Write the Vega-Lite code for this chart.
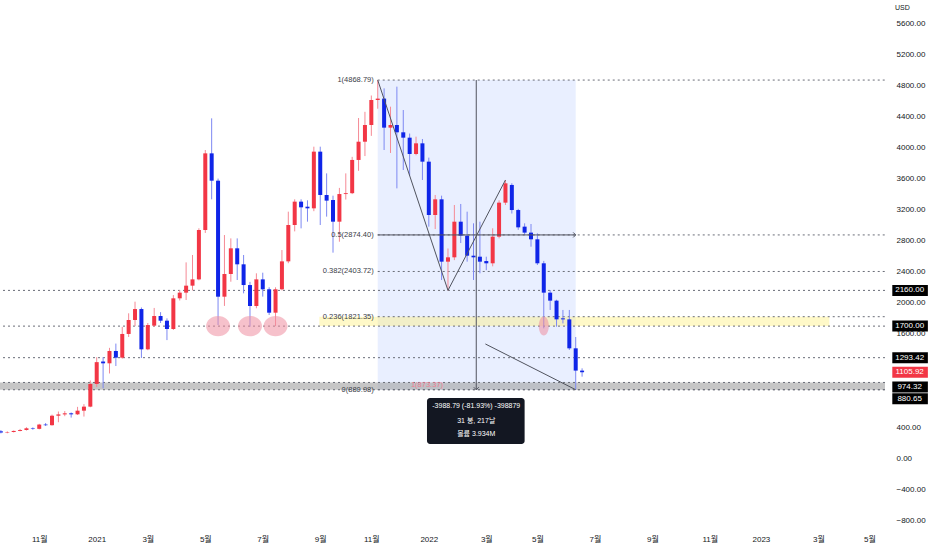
{
  "$schema": "https://vega.github.io/schema/vega-lite/v6.json",
  "width": 885,
  "height": 528,
  "autosize": {"type": "none"},
  "padding": {"left": 0, "top": 0, "right": 47, "bottom": 22},
  "background": "white",
  "datasets": {
    "candles": [
      {"d": "2020-09-21", "o": 345, "h": 362, "l": 318, "c": 330},
      {"d": "2020-09-28", "o": 330, "h": 345, "l": 320, "c": 336},
      {"d": "2020-10-05", "o": 336, "h": 356, "l": 330, "c": 350},
      {"d": "2020-10-12", "o": 350, "h": 376, "l": 345, "c": 362},
      {"d": "2020-10-19", "o": 362, "h": 398, "l": 355, "c": 384},
      {"d": "2020-10-26", "o": 384, "h": 396, "l": 365, "c": 377},
      {"d": "2020-11-02", "o": 377, "h": 442, "l": 370, "c": 432},
      {"d": "2020-11-09", "o": 432, "h": 452, "l": 414, "c": 424},
      {"d": "2020-11-16", "o": 424, "h": 560, "l": 418, "c": 546},
      {"d": "2020-11-23", "o": 546, "h": 600, "l": 462, "c": 563},
      {"d": "2020-11-30", "o": 563, "h": 606, "l": 540, "c": 577},
      {"d": "2020-12-07", "o": 577, "h": 588, "l": 522, "c": 564},
      {"d": "2020-12-14", "o": 564, "h": 660, "l": 555, "c": 611},
      {"d": "2020-12-21", "o": 611, "h": 695, "l": 535, "c": 663},
      {"d": "2020-12-28", "o": 663, "h": 1000, "l": 655, "c": 955},
      {"d": "2021-01-04", "o": 955, "h": 1300, "l": 915, "c": 1236},
      {"d": "2021-01-11", "o": 1244, "h": 1300, "l": 899, "c": 1221},
      {"d": "2021-01-18", "o": 1221, "h": 1420, "l": 1090, "c": 1380},
      {"d": "2021-01-25", "o": 1380, "h": 1475, "l": 1186, "c": 1294},
      {"d": "2021-02-01", "o": 1294, "h": 1690, "l": 1280, "c": 1599},
      {"d": "2021-02-08", "o": 1599, "h": 1865, "l": 1560, "c": 1779},
      {"d": "2021-02-15", "o": 1779, "h": 2015, "l": 1700, "c": 1920},
      {"d": "2021-02-22", "o": 1920, "h": 1940, "l": 1290, "c": 1401},
      {"d": "2021-03-01", "o": 1401, "h": 1740, "l": 1390, "c": 1714},
      {"d": "2021-03-08", "o": 1706, "h": 1934, "l": 1690, "c": 1830},
      {"d": "2021-03-15", "o": 1830, "h": 1880, "l": 1740, "c": 1770},
      {"d": "2021-03-22", "o": 1770, "h": 1800, "l": 1520, "c": 1663},
      {"d": "2021-03-29", "o": 1663, "h": 2100, "l": 1650, "c": 2058},
      {"d": "2021-04-05", "o": 2058, "h": 2165, "l": 2030, "c": 2131},
      {"d": "2021-04-12", "o": 2131, "h": 2521, "l": 2036, "c": 2221},
      {"d": "2021-04-19", "o": 2221, "h": 2616, "l": 2160, "c": 2302},
      {"d": "2021-04-26", "o": 2302, "h": 2960, "l": 2290, "c": 2938},
      {"d": "2021-05-03", "o": 2938, "h": 3968, "l": 2900, "c": 3925},
      {"d": "2021-05-10", "o": 3925, "h": 4376, "l": 3333, "c": 3573},
      {"d": "2021-05-17", "o": 3573, "h": 3600, "l": 1714, "c": 2079},
      {"d": "2021-05-24", "o": 2079, "h": 2873, "l": 1960, "c": 2371},
      {"d": "2021-05-31", "o": 2371, "h": 2830, "l": 2272, "c": 2702},
      {"d": "2021-06-07", "o": 2702, "h": 2830, "l": 2294, "c": 2496},
      {"d": "2021-06-14", "o": 2496, "h": 2616, "l": 2122, "c": 2229},
      {"d": "2021-06-21", "o": 2229, "h": 2270, "l": 1693, "c": 1959},
      {"d": "2021-06-28", "o": 1959, "h": 2380, "l": 1930, "c": 2302},
      {"d": "2021-07-05", "o": 2302, "h": 2388, "l": 2080, "c": 2174},
      {"d": "2021-07-12", "o": 2174, "h": 2200, "l": 1843, "c": 1873},
      {"d": "2021-07-19", "o": 1873, "h": 2200, "l": 1700, "c": 2174},
      {"d": "2021-07-26", "o": 2174, "h": 2680, "l": 2160, "c": 2534},
      {"d": "2021-08-02", "o": 2534, "h": 3174, "l": 2510, "c": 3002},
      {"d": "2021-08-09", "o": 3002, "h": 3333, "l": 2920, "c": 3303},
      {"d": "2021-08-16", "o": 3303, "h": 3333, "l": 2959, "c": 3230},
      {"d": "2021-08-23", "o": 3238, "h": 3320, "l": 3045, "c": 3217},
      {"d": "2021-08-30", "o": 3217, "h": 4011, "l": 3180, "c": 3947},
      {"d": "2021-09-06", "o": 3947, "h": 4011, "l": 3002, "c": 3389},
      {"d": "2021-09-13", "o": 3389, "h": 3667, "l": 3110, "c": 3316},
      {"d": "2021-09-20", "o": 3324, "h": 3380, "l": 2646, "c": 3045},
      {"d": "2021-09-27", "o": 3045, "h": 3480, "l": 2787, "c": 3401},
      {"d": "2021-10-04", "o": 3401, "h": 3667, "l": 3330, "c": 3412},
      {"d": "2021-10-11", "o": 3412, "h": 3880, "l": 3400, "c": 3840},
      {"d": "2021-10-18", "o": 3840, "h": 4380, "l": 3700, "c": 4075},
      {"d": "2021-10-25", "o": 4075, "h": 4460, "l": 3890, "c": 4290},
      {"d": "2021-11-01", "o": 4290, "h": 4670, "l": 4150, "c": 4612},
      {"d": "2021-11-08", "o": 4612, "h": 4868.79, "l": 4500, "c": 4630},
      {"d": "2021-11-15", "o": 4630, "h": 4762, "l": 3968, "c": 4256},
      {"d": "2021-11-22", "o": 4256, "h": 4526, "l": 3930, "c": 4290},
      {"d": "2021-11-29", "o": 4290, "h": 4784, "l": 3474, "c": 4196},
      {"d": "2021-12-06", "o": 4196, "h": 4483, "l": 3711, "c": 4127},
      {"d": "2021-12-13", "o": 4127, "h": 4180, "l": 3640, "c": 3917},
      {"d": "2021-12-20", "o": 3917, "h": 4140, "l": 3900, "c": 4054},
      {"d": "2021-12-27", "o": 4054, "h": 4110, "l": 3582, "c": 3818},
      {"d": "2022-01-03", "o": 3818, "h": 3870, "l": 2981, "c": 3131},
      {"d": "2022-01-10", "o": 3131, "h": 3389, "l": 2950, "c": 3333},
      {"d": "2022-01-17", "o": 3333, "h": 3380, "l": 2294, "c": 2530},
      {"d": "2022-01-24", "o": 2530, "h": 2700, "l": 2160, "c": 2586},
      {"d": "2022-01-31", "o": 2586, "h": 3260, "l": 2550, "c": 3045},
      {"d": "2022-02-07", "o": 3045, "h": 3273, "l": 2770, "c": 2865},
      {"d": "2022-02-14", "o": 2865, "h": 3174, "l": 2530, "c": 2607},
      {"d": "2022-02-21", "o": 2607, "h": 3024, "l": 2294, "c": 2586},
      {"d": "2022-02-28", "o": 2594, "h": 3045, "l": 2380, "c": 2530},
      {"d": "2022-03-07", "o": 2538, "h": 2594, "l": 2420, "c": 2509},
      {"d": "2022-03-14", "o": 2509, "h": 2960, "l": 2470, "c": 2852},
      {"d": "2022-03-21", "o": 2852, "h": 3320, "l": 2830, "c": 3290},
      {"d": "2022-03-28", "o": 3290, "h": 3582, "l": 3260, "c": 3539},
      {"d": "2022-04-04", "o": 3518, "h": 3540, "l": 3150, "c": 3195},
      {"d": "2022-04-11", "o": 3195, "h": 3210, "l": 2940, "c": 2972},
      {"d": "2022-04-18", "o": 2981, "h": 3024, "l": 2874, "c": 2904},
      {"d": "2022-04-25", "o": 2904, "h": 3015, "l": 2723, "c": 2818},
      {"d": "2022-05-02", "o": 2818, "h": 2895, "l": 2487, "c": 2509},
      {"d": "2022-05-09", "o": 2509, "h": 2540, "l": 1671, "c": 2131},
      {"d": "2022-05-16", "o": 2131, "h": 2165, "l": 1908, "c": 2028},
      {"d": "2022-05-23", "o": 2028, "h": 2040, "l": 1693, "c": 1787},
      {"d": "2022-05-30", "o": 1800, "h": 1908, "l": 1735, "c": 1787},
      {"d": "2022-06-06", "o": 1787, "h": 1908, "l": 1393, "c": 1414},
      {"d": "2022-06-13", "o": 1414, "h": 1560, "l": 880.98, "c": 1127},
      {"d": "2022-06-20", "o": 1127, "h": 1156, "l": 1049, "c": 1105.92}
    ],
    "levels": [
      {"v": 2160}, {"v": 1700}, {"v": 1293.42}, {"v": 974.32}, {"v": 880.65}
    ],
    "fib": [
      {"d": "2021-11-08", "d2": "2023-05-18", "v": 4868.79, "t": "1(4868.79)"},
      {"d": "2021-11-08", "d2": "2023-05-18", "v": 2874.40, "t": "0.5(2874.40)"},
      {"d": "2021-11-08", "d2": "2023-05-18", "v": 2403.72, "t": "0.382(2403.72)"},
      {"d": "2021-11-08", "d2": "2023-05-18", "v": 1821.35, "t": "0.236(1821.35)"},
      {"d": "2021-11-08", "d2": "2023-05-18", "v": 880.98, "t": "0(880.98)"}
    ],
    "zig": [
      {"g": 1, "i": 1, "d": "2021-11-08", "v": 4868.79},
      {"g": 1, "i": 2, "d": "2022-01-24", "v": 2160},
      {"g": 1, "i": 3, "d": "2022-03-28", "v": 3582},
      {"g": 2, "i": 1, "d": "2022-03-06", "v": 1470},
      {"g": 2, "i": 2, "d": "2022-06-13", "v": 880.98}
    ],
    "lows": [
      {"d": "2021-05-17", "v": 1700},
      {"d": "2021-06-21", "v": 1700},
      {"d": "2021-07-19", "v": 1700}
    ],
    "tip": [
      {"t": "-3988.79 (-81.93%) -398879", "v": 672},
      {"t": "31 봉, 217날", "v": 482},
      {"t": "볼륨 3.934M", "v": 311}
    ],
    "prices": [
      {"label": "2160.00", "p": 2160},
      {"label": "1700.00", "p": 1700},
      {"label": "1293.42", "p": 1293.42},
      {"label": "1105.92", "p": 1105.92},
      {"label": "974.32", "p": 915},
      {"label": "880.65", "p": 765}
    ]
  },
  "config": {
    "view": {"stroke": null},
    "font": "Liberation Sans, Noto Sans CJK KR",
    "text": {"font": "Liberation Sans, Noto Sans CJK KR"},
    "scale": {"continuousPadding": 0},
    "axis": {"labelOverlap": false}
  },
  "layer": [
    {
      "data": {"values": [{"d": "2021-11-08", "d2": "2022-06-13", "v": 4868.79, "v2": 880.98}]},
      "mark": {"type": "rect", "color": "#2962ff", "opacity": 0.1},
      "encoding": {
        "x": {
          "field": "d", "type": "temporal",
          "scale": {"type": "utc", "nice": false, "padding": 0, "domain": [
            {"year": 2020, "month": 9, "date": 20, "utc": true},
            {"year": 2023, "month": 5, "date": 18, "utc": true}
          ]},
          "axis": {
            "title": null, "orient": "bottom", "domain": false, "ticks": false, "tickSize": 0, "grid": false,
            "tickCount": 30,
            "labelFontSize": 8, "labelColor": "#131722", "labelPadding": 7, "labelFlush": false, "labelOverlap": false,
            "labelExpr": "utcmonth(datum.value) == 0 ? utcFormat(datum.value, '%Y') : (utcmonth(datum.value) + 1) + '월'",
            "values": [
              {"year": 2020, "month": 11, "date": 2, "utc": true},
              {"year": 2021, "month": 1, "date": 4, "utc": true},
              {"year": 2021, "month": 3, "date": 1, "utc": true},
              {"year": 2021, "month": 5, "date": 3, "utc": true},
              {"year": 2021, "month": 7, "date": 5, "utc": true},
              {"year": 2021, "month": 9, "date": 6, "utc": true},
              {"year": 2021, "month": 11, "date": 1, "utc": true},
              {"year": 2022, "month": 1, "date": 3, "utc": true},
              {"year": 2022, "month": 3, "date": 7, "utc": true},
              {"year": 2022, "month": 5, "date": 2, "utc": true},
              {"year": 2022, "month": 7, "date": 4, "utc": true},
              {"year": 2022, "month": 9, "date": 5, "utc": true},
              {"year": 2022, "month": 11, "date": 7, "utc": true},
              {"year": 2023, "month": 1, "date": 2, "utc": true},
              {"year": 2023, "month": 3, "date": 6, "utc": true},
              {"year": 2023, "month": 5, "date": 1, "utc": true}
            ]
          }
        },
        "x2": {"field": "d2"},
        "y": {
          "field": "v", "type": "quantitative",
          "scale": {"domain": [-900, 5900], "nice": false, "zero": false, "padding": 0},
          "axis": {
            "title": null, "orient": "right", "domain": false, "ticks": false, "tickSize": 0, "grid": false,
            "tickCount": 30,
            "format": ".2f", "labelFontSize": 8, "labelColor": "#131722", "labelPadding": 11, "labelOverlap": false,
            "values": [-800, -400, 0, 400, 1600, 2000, 2400, 2800, 3200, 3600, 4000, 4400, 4800, 5200, 5600]
          }
        },
        "y2": {"field": "v2"}
      }
    },
    {
      "data": {"values": [{"d": "2021-09-05", "d2": "2023-03-18", "v": 1821.35, "v2": 1700}]},
      "mark": {"type": "rect", "color": "#fff176", "opacity": 0.4},
      "encoding": {
        "x": {"field": "d", "type": "temporal"},
        "x2": {"field": "d2"},
        "y": {"field": "v", "type": "quantitative"},
        "y2": {"field": "v2"}
      }
    },
    {
      "data": {"values": [{"v": 974.32, "v2": 880.65}]},
      "mark": {"type": "rect", "color": "#a0a0a0", "opacity": 0.6},
      "encoding": {
        "y": {"field": "v", "type": "quantitative"},
        "y2": {"field": "v2"}
      }
    },
    {
      "data": {"name": "levels"},
      "mark": {"type": "rule", "color": "#6a6d78", "strokeWidth": 1, "strokeDash": [2, 3]},
      "encoding": {
        "y": {"field": "v", "type": "quantitative"}
      }
    },
    {
      "data": {"name": "fib"},
      "mark": {"type": "rule", "color": "#6a6d78", "strokeWidth": 1, "strokeDash": [2, 3]},
      "encoding": {
        "x": {"field": "d", "type": "temporal"},
        "x2": {"field": "d2"},
        "y": {"field": "v", "type": "quantitative"}
      }
    },
    {
      "data": {"name": "candles"},
      "mark": {"type": "rule", "strokeWidth": 1, "clip": true},
      "encoding": {
        "x": {"field": "d", "type": "temporal"},
        "y": {"field": "l", "type": "quantitative"},
        "y2": {"field": "h"},
        "color": {"condition": {"test": "datum.c >= datum.o", "value": "#f58a95"}, "value": "#7d88f2"}
      }
    },
    {
      "data": {"name": "candles"},
      "mark": {"type": "bar", "size": 4, "clip": true},
      "encoding": {
        "x": {"field": "d", "type": "temporal"},
        "y": {"field": "o", "type": "quantitative"},
        "y2": {"field": "c"},
        "color": {"condition": {"test": "datum.c >= datum.o", "value": "#f23645"}, "value": "#0f25e8"}
      }
    },
    {
      "data": {"name": "lows"},
      "mark": {"type": "point", "filled": true, "color": "#ef8ea0", "opacity": 0.55, "size": 576,
        "shape": "M-1,0A1,0.85 0 1,0 1,0A1,0.85 0 1,0 -1,0Z"},
      "encoding": {
        "x": {"field": "d", "type": "temporal"},
        "y": {"field": "v", "type": "quantitative"}
      }
    },
    {
      "data": {"values": [{"d": "2022-05-09", "v": 1700}]},
      "mark": {"type": "point", "filled": true, "color": "#ef8ea0", "opacity": 0.55, "size": 361,
        "shape": "M-0.53,0A0.53,1 0 1,0 0.53,0A0.53,1 0 1,0 -0.53,0Z"},
      "encoding": {
        "x": {"field": "d", "type": "temporal"},
        "y": {"field": "v", "type": "quantitative"}
      }
    },
    {
      "data": {"name": "zig"},
      "mark": {"type": "line", "color": "#50535e", "strokeWidth": 1},
      "encoding": {
        "x": {"field": "d", "type": "temporal"},
        "y": {"field": "v", "type": "quantitative"},
        "detail": {"field": "g", "type": "nominal"},
        "order": {"field": "i", "type": "quantitative"}
      }
    },
    {
      "data": {"values": [{"d": "2022-02-24", "v": 4868.79, "v2": 880.98}]},
      "mark": {"type": "rule", "color": "#50535e", "strokeWidth": 1},
      "encoding": {
        "x": {"field": "d", "type": "temporal"},
        "y": {"field": "v", "type": "quantitative"},
        "y2": {"field": "v2"}
      }
    },
    {
      "data": {"values": [{"d": "2021-11-08", "d2": "2022-06-13", "v": 2874.40}]},
      "mark": {"type": "rule", "color": "#50535e", "strokeWidth": 1},
      "encoding": {
        "x": {"field": "d", "type": "temporal"},
        "x2": {"field": "d2"},
        "y": {"field": "v", "type": "quantitative"}
      }
    },
    {
      "data": {"values": [{"d": "2022-02-24", "v": 880.98}]},
      "mark": {"type": "point", "filled": false, "color": "#50535e", "strokeWidth": 1, "opacity": 1, "size": 25,
        "shape": "M-1,-1L0,0L1,-1"},
      "encoding": {
        "x": {"field": "d", "type": "temporal"},
        "y": {"field": "v", "type": "quantitative"}
      }
    },
    {
      "data": {"values": [{"d": "2022-06-13", "v": 2874.40}]},
      "mark": {"type": "point", "filled": false, "color": "#50535e", "strokeWidth": 1, "opacity": 1, "size": 25,
        "shape": "M-1,-1L0,0L-1,1"},
      "encoding": {
        "x": {"field": "d", "type": "temporal"},
        "y": {"field": "v", "type": "quantitative"}
      }
    },
    {
      "data": {"name": "fib"},
      "mark": {"type": "text", "align": "right", "baseline": "middle", "dx": -4, "fontSize": 7.5, "color": "#3a3d47"},
      "encoding": {
        "x": {"field": "d", "type": "temporal"},
        "y": {"field": "v", "type": "quantitative"},
        "text": {"field": "t"}
      }
    },
    {
      "data": {"values": [{"t": "1(873.37)", "d": "2022-01-01", "v": 945}]},
      "mark": {"type": "text", "align": "center", "baseline": "middle", "fontSize": 7.5, "color": "#ee7d90"},
      "encoding": {
        "x": {"field": "d", "type": "temporal"},
        "y": {"field": "v", "type": "quantitative"},
        "text": {"field": "t"}
      }
    },
    {
      "data": {"values": [{"d": "2022-01-01", "d2": "2022-04-18", "v": 775, "v2": 182}]},
      "mark": {"type": "rect", "color": "#131722", "cornerRadius": 3},
      "encoding": {
        "x": {"field": "d", "type": "temporal"},
        "x2": {"field": "d2"},
        "y": {"field": "v", "type": "quantitative"},
        "y2": {"field": "v2"}
      }
    },
    {
      "data": {"name": "tip"},
      "mark": {"type": "text", "align": "center", "baseline": "middle", "fontSize": 7, "color": "white"},
      "encoding": {
        "x": {"datum": {"year": 2022, "month": 2, "date": 24, "utc": true}, "type": "temporal"},
        "y": {"field": "v", "type": "quantitative"},
        "text": {"field": "t"}
      }
    },
    {
      "data": {"name": "prices"},
      "mark": {"type": "bar", "size": 11},
      "encoding": {
        "x": {"datum": {"year": 2023, "month": 5, "date": 26, "utc": true}, "type": "temporal"},
        "x2": {"datum": {"year": 2023, "month": 7, "date": 4, "utc": true}},
        "y": {"field": "p", "type": "quantitative"},
        "color": {"condition": {"test": "datum.label == '1105.92'", "value": "#f23645"}, "value": "#000000"}
      }
    },
    {
      "data": {"name": "prices"},
      "mark": {"type": "text", "align": "center", "baseline": "middle", "fontSize": 8, "color": "white"},
      "encoding": {
        "x": {"datum": {"year": 2023, "month": 6, "date": 14, "utc": true}, "type": "temporal"},
        "y": {"field": "p", "type": "quantitative"},
        "text": {"field": "label"}
      }
    },
    {
      "data": {"values": [{"t": "USD", "d": "2023-05-29", "v": 5797}]},
      "mark": {"type": "text", "align": "left", "baseline": "middle", "fontSize": 7, "color": "#131722"},
      "encoding": {
        "x": {"field": "d", "type": "temporal"},
        "y": {"field": "v", "type": "quantitative"},
        "text": {"field": "t"}
      }
    }
  ]
}
